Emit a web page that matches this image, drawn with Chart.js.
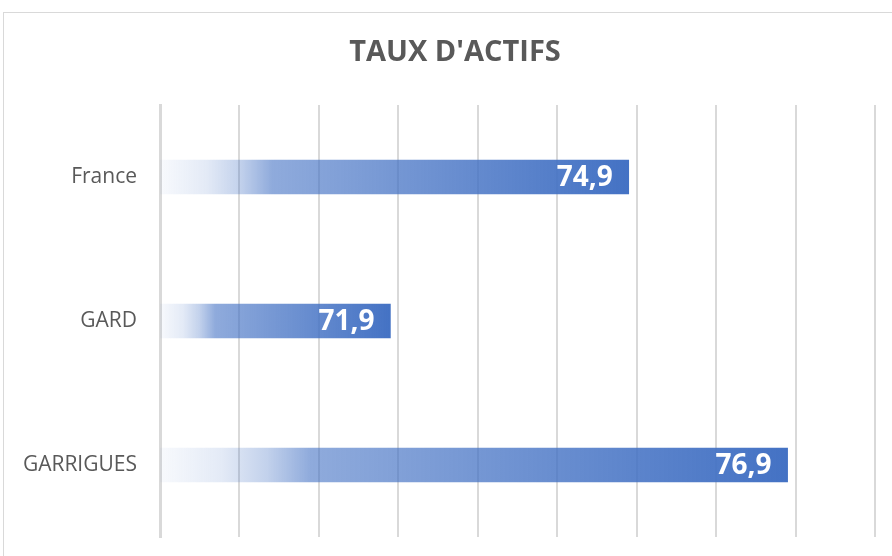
<!DOCTYPE html>
<html>
<head>
<meta charset="utf-8">
<script src="https://cdn.jsdelivr.net/npm/chart.js@4.4.1/dist/chart.umd.min.js"></script>
<style>
    html, body { margin: 0; padding: 0; background: #fff; overflow: hidden; }
    #wrap { width: 892px; height: 556px; position: relative; }
</style>
</head>
<body>
<div id="wrap"><canvas id="chart" width="892" height="556"></canvas></div>
<script>
// data
const categories = ["France", "GARD", "GARRIGUES"];
const tauxActifs = [74.9, 71.9, 76.9];
const axisMin = 69;
const axisMax = 78;
const titleText = "TAUX D'ACTIFS";

const blue = "68,114,196";

// gradient along each bar, from the axis to the end of the bar
function barGradient(ctx) {
    const chart = ctx.chart;
    if (!chart.chartArea || ctx.raw === undefined) return "rgba(" + blue + ",0.8)";
    const x = chart.scales.x;
    const x0 = x.getPixelForValue(x.min);
    const x1 = x.getPixelForValue(ctx.raw);
    const g = chart.ctx.createLinearGradient(x0, 0, x1, 0);
    g.addColorStop(0, "rgba(" + blue + ",0.04)");
    g.addColorStop(0.1, "rgba(" + blue + ",0.15)");
    g.addColorStop(0.17, "rgba(" + blue + ",0.32)");
    g.addColorStop(0.24, "rgba(" + blue + ",0.6)");
    g.addColorStop(1, "rgba(" + blue + ",1)");
    return g;
}

// frame + title (title is a bit right of the canvas centre, as in the original)
const framePlugin = {
    id: "frame",
    beforeDraw(chart) {
        const c = chart.ctx;
        c.save();
        c.strokeStyle = "#d9d9d9";
        c.lineWidth = 1;
        c.strokeRect(3.5, 12.5, 1000, 1000);
        c.fillStyle = "#595959";
        c.font = "bold 29px 'Open Sans', sans-serif";
        c.textAlign = "center";
        c.textBaseline = "middle";
        c.fillText(titleText, 455, 53);
        c.restore();
    }
};

// value labels inside the bar ends
const valueLabels = {
    id: "valueLabels",
    afterDatasetsDraw(chart) {
        const c = chart.ctx;
        const meta = chart.getDatasetMeta(0);
        c.save();
        c.fillStyle = "#ffffff";
        c.font = "bold 28px 'Open Sans', sans-serif";
        c.textAlign = "right";
        c.textBaseline = "middle";
        meta.data.forEach((bar, i) => {
            const txt = tauxActifs[i].toFixed(1).replace(".", ",");
            c.fillText(txt, bar.x - 16, bar.y + 1);
        });
        c.restore();
    }
};

new Chart(document.getElementById("chart"), {
    type: "bar",
    data: {
        labels: categories,
        datasets: [{
            data: tauxActifs,
            backgroundColor: barGradient,
            borderWidth: 0,
            barThickness: 34
        }]
    },
    options: {
        indexAxis: "y",
        responsive: false,
        animation: false,
        events: [],
        layout: {
            autoPadding: false,
            padding: { left: 0, right: 17, top: 105, bottom: 19 }
        },
        plugins: {
            legend: { display: false },
            tooltip: { enabled: false },
            title: { display: false }
        },
        scales: {
            x: {
                min: axisMin,
                max: axisMax,
                ticks: { display: false, stepSize: 1 },
                grid: { color: "#d9d9d9", lineWidth: 2, drawTicks: false },
                border: { display: false }
            },
            y: {
                afterFit(scale) {
                    scale.width = 160;
                    scale.paddingTop = 0;
                    scale.paddingBottom = 0;
                },
                ticks: {
                    color: "#595959",
                    padding: 23,
                    font: { family: "'Open Sans', sans-serif", size: 21 }
                },
                grid: { display: false, drawTicks: false },
                border: { display: true, color: "#d9d9d9", width: 3 }
            }
        }
    },
    plugins: [framePlugin, valueLabels]
});
</script>
</body>
</html>
